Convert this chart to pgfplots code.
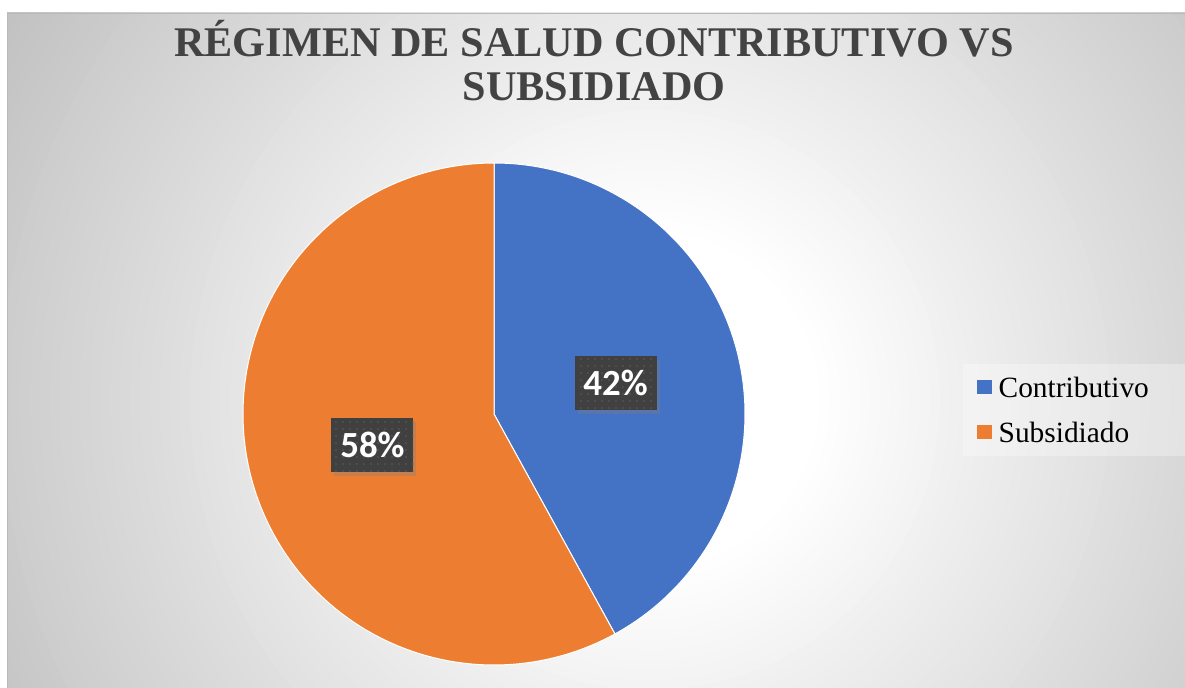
\documentclass[border=0pt]{standalone}
\usepackage{pgfplots}
\pgfplotsset{compat=1.18}
\usepackage{fontspec}
\setmainfont{Liberation Serif}
\newfontfamily\carlito{Carlito}
\usetikzlibrary{shadows,patterns.meta}
\definecolor{pieblue}{HTML}{4472C4}
\definecolor{pieorange}{HTML}{ED7D31}
\definecolor{titlegray}{HTML}{434343}
\definecolor{labelgray}{HTML}{404040}
\definecolor{dotgray}{HTML}{5C5C5C}
\tikzset{labelbox/.style={fill=labelgray, text=white, font=\carlito\bfseries\fontsize{37}{40}\selectfont,
    minimum width=82bp, minimum height=54bp, inner sep=0pt,
    drop shadow={shadow xshift=3bp, shadow yshift=-4bp, opacity=0.35},
    postaction={pattern={Dots[radius=0.9bp, distance=7bp]}, pattern color=dotgray}}}

% data (percent)
\def\valA{42}% Contributivo
\def\valB{58}% Subsidiado

\begin{document}
\begin{tikzpicture}
\useasboundingbox (0bp,0bp) rectangle (1185bp,688bp);
\begin{scope}
\clip (7bp,0bp) rectangle (1185bp,675bp);
\foreach \r in {830,820,...,170}{
  \pgfmathsetmacro\g{min(1,(255-(\r-170)*0.105)/255)}
  \definecolor{ring}{gray}{\g}
  \fill[ring] (650bp,288bp) circle[radius=\r bp];
}
\end{scope}
\draw[gray!55, line width=0.8bp] (7.4bp,0bp) -- (7.4bp,674.6bp) -- (1185bp,674.6bp);
\fill[white, opacity=0.3] (963bp,232bp) rectangle (1185bp,324bp);

\node[font=\bfseries\fontsize{42.4}{48}\selectfont, text=titlegray, anchor=base, inner sep=0pt] at (594bp,631bp) {RÉGIMEN DE SALUD CONTRIBUTIVO VS};
\node[font=\bfseries\fontsize{42.4}{48}\selectfont, text=titlegray, anchor=base, inner sep=0pt] at (594bp,587bp) {SUBSIDIADO};

\pgfmathsetmacro\angA{90-3.6*\valA}
\pgfmathsetmacro\angB{\angA-3.6*\valB}
\pgfmathsetmacro\midA{90-1.8*\valA}
\pgfmathsetmacro\midB{\angA-1.8*\valB}

\begin{axis}[at={(243bp,23bp)}, anchor=south west, width=502bp, height=502bp, scale only axis,
  xmin=-1, xmax=1, ymin=-1, ymax=1, hide axis, clip=false,
  legend style={at={(1.4382,0.6016)}, anchor=north west, draw=none, fill=none,
    font=\fontsize{29.5}{35}\selectfont, inner xsep=12bp, inner ysep=13bp, row sep=18bp,
    nodes={inner sep=0pt, text height=21bp, text depth=6bp},
    cells={anchor=base west}},
  legend image code/.code={\fill[#1, draw=none] (0bp,3bp) rectangle (15bp,17bp); \path (21bp,0bp);},
]
\addplot[fill=pieblue, draw=white, line width=1bp, domain=90:\angA, samples=150, variable=\t]
  ({cos(\t)},{sin(\t)}) -- (0,0) -- cycle;
\addlegendentry{Contributivo}
\addplot[fill=pieorange, draw=white, line width=1bp, domain=\angA:\angB, samples=200, variable=\t]
  ({cos(\t)},{sin(\t)}) -- (0,0) -- cycle;
\addlegendentry{Subsidiado}
\node[labelbox] at ({0.5*cos(\midA)},{0.5*sin(\midA)}) {42\%};
\node[labelbox] at ({0.5*cos(\midB)},{0.5*sin(\midB)}) {58\%};
\end{axis}
\end{tikzpicture}
\end{document}
